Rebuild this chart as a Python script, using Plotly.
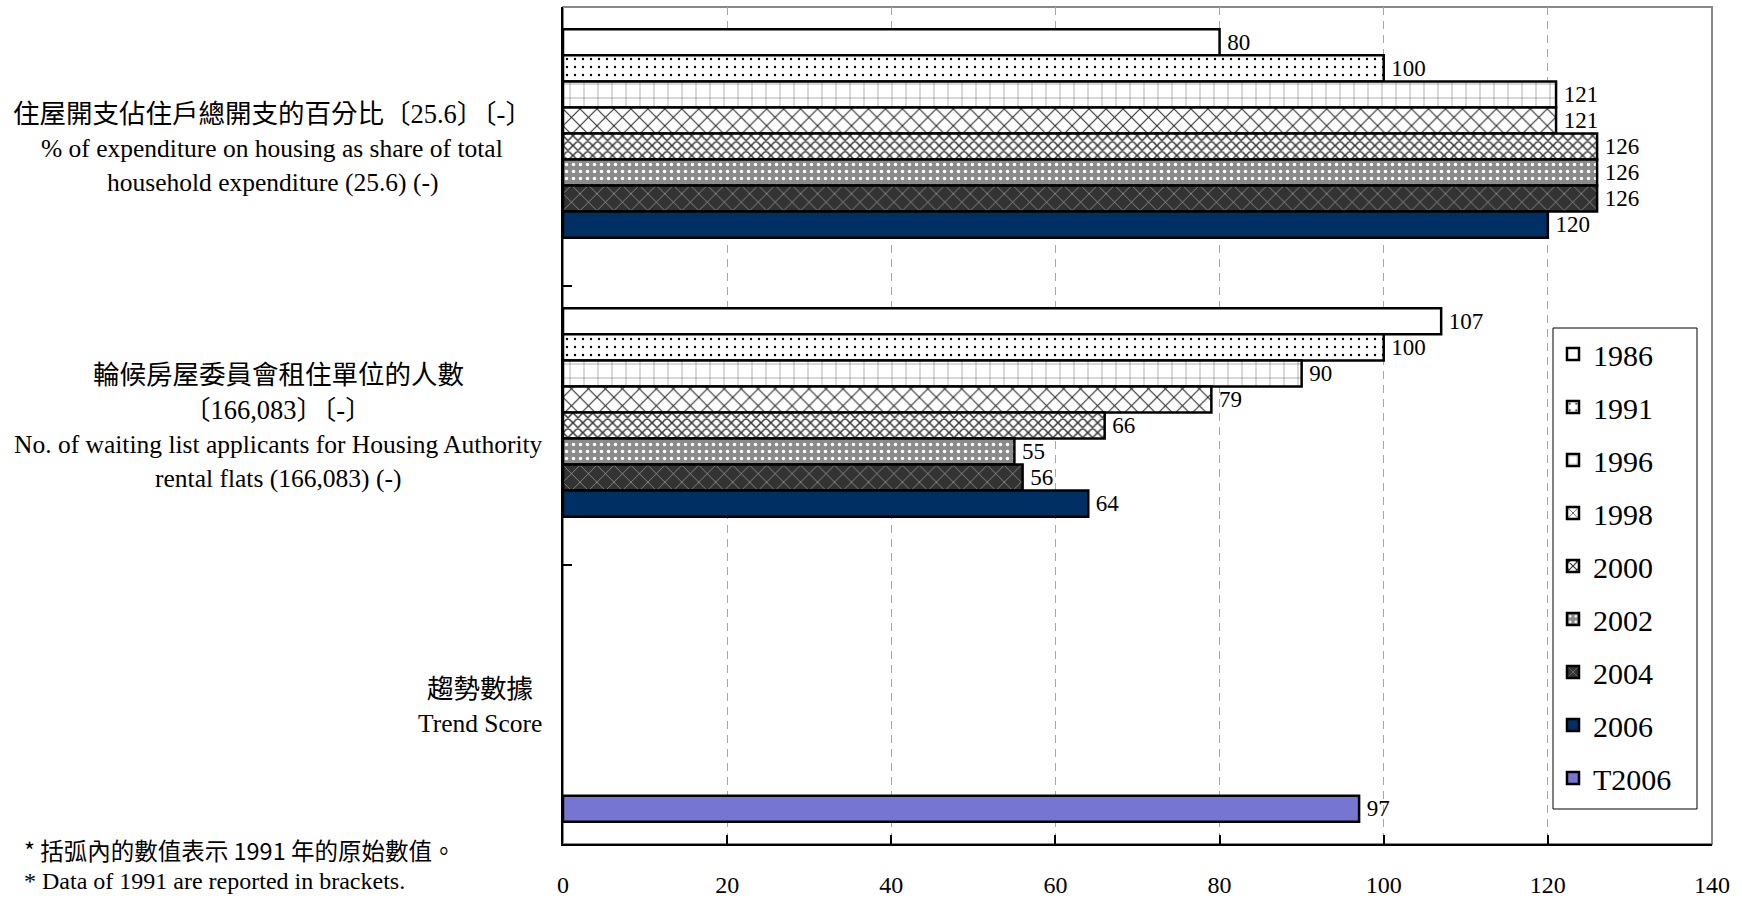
import plotly.graph_objects as go

# ---------------- data ----------------
categories = [
    "住屋開支佔住戶總開支的百分比〔25.6〕〔-〕<br>% of expenditure on housing as share of total<br>household expenditure (25.6) (-)",
    "輪候房屋委員會租住單位的人數<br>〔166,083〕〔-〕<br>No. of waiting list applicants for Housing Authority<br>rental flats (166,083) (-)",
    "趨勢數據<br>Trend Score",
]
series_names = ["1986", "1991", "1996", "1998", "2000", "2002", "2004", "2006", "T2006"]
v1986 = [80, 107, None]
v1991 = [100, 100, None]
v1996 = [121, 90, None]
v1998 = [121, 79, None]
v2000 = [126, 66, None]
v2002 = [126, 55, None]
v2004 = [126, 56, None]
v2006 = [120, 64, None]
vT2006 = [None, None, 97]
series_values = [v1986, v1991, v1996, v1998, v2000, v2002, v2004, v2006, vT2006]
x_ticks = [0, 20, 40, 60, 80, 100, 120, 140]
footnotes = ["* 括弧內的數值表示 1991 年的原始數值。", "* Data of 1991 are reported in brackets."]

# ---------------- styles ----------------
SERIF = "Liberation Serif, Times New Roman, Noto Sans CJK TC"
styles = [
    dict(color="white", pattern=dict(shape="")),
    dict(color="white", pattern=dict(shape=".", fgcolor="black", bgcolor="white", size=8, solidity=0.07, fillmode="replace")),
    dict(color="white", pattern=dict(shape="+", fgcolor="#666666", bgcolor="white", size=14, solidity=0.07, fillmode="replace")),
    dict(color="white", pattern=dict(shape="x", fgcolor="#222222", bgcolor="white", size=12, solidity=0.16, fillmode="replace")),
    dict(color="white", pattern=dict(shape="x", fgcolor="#333333", bgcolor="white", size=7, solidity=0.38, fillmode="replace")),
    dict(color="#8a8a8a", pattern=dict(shape=".", fgcolor="white", bgcolor="#8a8a8a", size=7, solidity=0.2, fillmode="replace")),
    dict(color="#333333", pattern=dict(shape="x", fgcolor="#b5b5b5", bgcolor="#333333", size=12, solidity=0.1, fillmode="replace")),
    dict(color="#003063", pattern=dict(shape="")),
    dict(color="#7676d2", pattern=dict(shape="")),
]

fig = go.Figure()
for name, vals, st in zip(series_names, series_values, styles):
    fig.add_trace(go.Bar(
        y=categories, x=vals, name=name, orientation="h",
        legendgroup=name,
        marker=dict(color=st["color"], pattern=st["pattern"],
                    line=dict(color="black", width=2.5)),
        text=[("" if v is None else "\u2009" + str(v)) for v in vals],
        textposition="outside", cliponaxis=False,
        textfont=dict(family=SERIF, size=23, color="black"),
    ))

W, H = 1742, 902
L, R, T, B = 563, 30, 7, 58
pw = W - L - R
ph = H - T - B

# category labels, one annotation per line, centred on a common x
label_centers_px = [272, 278, 480]
line_gap = 34.5
annotations = []
for cat, cx in zip(categories, label_centers_px):
    lines = cat.split("<br>")
    n = len(lines)
    for i, line in enumerate(lines):
        has_cjk = any(ord(ch) > 0x2E80 for ch in line)
        annotations.append(dict(
            xref="paper", yref="y", x=(cx - L) / pw, y=cat,
            xanchor="center", yanchor="middle", showarrow=False,
            text=line, yshift=-1.5 - (i - (n - 1) / 2) * line_gap,
            font=dict(family=SERIF, size=26.5 if has_cjk else 25.5, color="black"),
        ))

# footnotes
annotations.append(dict(xref="paper", yref="paper", x=(22 - L) / pw, y=(H - B - 850) / ph,
                        xanchor="left", yanchor="middle", showarrow=False, text=footnotes[0],
                        font=dict(family="Noto Sans CJK TC", size=23.5, color="black")))
annotations.append(dict(xref="paper", yref="paper", x=(22 - L) / pw, y=(H - B - 881) / ph,
                        xanchor="left", yanchor="middle", showarrow=False, text=footnotes[1],
                        font=dict(family=SERIF, size=24, color="black")))

# legend frame (drawn as a shape so its size matches the original box)
lg_x0, lg_x1, lg_top, lg_bot = 1553, 1697, 328, 809

fig.update_layout(
    width=W, height=H,
    margin=dict(l=L, r=R, t=T, b=B, pad=0, autoexpand=False),
    paper_bgcolor="white", plot_bgcolor="white",
    barmode="group", bargap=0.16, bargroupgap=0,
    showlegend=True,
    legend=dict(
        x=(lg_x0 - L) / pw, y=1 - (lg_top - T) / ph, xanchor="left", yanchor="top",
        borderwidth=0, bgcolor="rgba(0,0,0,0)",
        font=dict(family=SERIF, size=30, color="black"),
        traceorder="grouped", tracegroupgap=11,
    ),
    annotations=annotations,
    shapes=[
        dict(type="rect", xref="paper", yref="paper", x0=0, x1=1, y0=0, y1=1,
             line=dict(color="#888888", width=2), layer="below"),
        dict(type="rect", xref="paper", yref="paper",
             x0=(lg_x0 - L) / pw, x1=(lg_x1 - L) / pw,
             y0=(H - B - lg_bot) / ph, y1=(H - B - lg_top) / ph,
             line=dict(color="black", width=1), fillcolor="white", layer="above"),
    ],
)

fig.update_xaxes(
    range=[0, 140], tickvals=x_ticks, ticktext=[str(t) for t in x_ticks],
    showgrid=True, gridcolor="#a8a8a8", griddash="8px,6px", gridwidth=1,
    zeroline=False, showline=True, linecolor="black", linewidth=2,
    ticks="inside", ticklen=9, tickcolor="black", tickwidth=1.5,
    tickfont=dict(family=SERIF, size=24, color="black"),
    ticklabelstandoff=18, automargin=False, fixedrange=True,
)
fig.update_yaxes(
    type="category", categoryorder="array", categoryarray=categories,
    autorange="reversed", showticklabels=False, showgrid=False, zeroline=False,
    showline=True, linecolor="black", linewidth=2, automargin=False,
    ticks="inside", ticklen=9, tickcolor="black", tickwidth=1.5, tickson="boundaries",
    fixedrange=True,
)

fig.write_html("out.html", config={"displayModeBar": False},
               post_script="document.body.style.margin='0';document.body.style.overflow='hidden';")
